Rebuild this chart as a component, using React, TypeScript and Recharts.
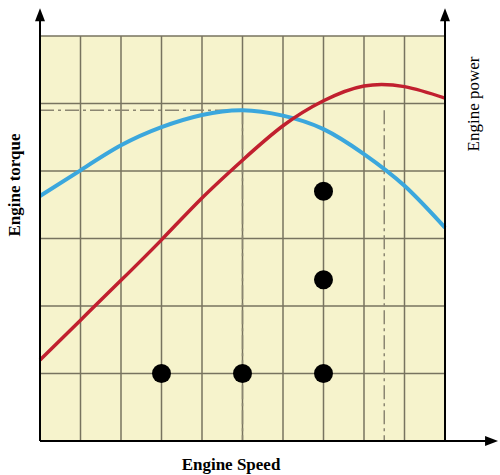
import React from 'react';
import {
  ComposedChart,
  Line,
  Scatter,
  XAxis,
  YAxis,
  CartesianGrid,
  ReferenceLine,
  ReferenceDot,
} from 'recharts';

// engine speed, in grid units
const speeds = [0, 1, 2, 3, 4, 5, 6, 7, 8, 9, 10];
const torque = [3.63, 4.01, 4.38, 4.65, 4.83, 4.9, 4.82, 4.62, 4.25, 3.78, 3.16];
const power = [1.2, 1.79, 2.38, 2.98, 3.6, 4.16, 4.67, 5.04, 5.26, 5.25, 5.08];

const pointX = [3, 5, 7, 7, 7];
const pointY = [1, 1, 1, 2.39, 3.7];

const xTicks = [0, 1, 2, 3, 4, 5, 6, 7, 8, 9, 10];
const yTicks = [0, 1, 2, 3, 4, 5, 6];
const powerTicks = [0.73, 1.38, 2.04, 2.7, 3.36, 4.0, 4.64, 5.33];

const data = speeds.map((x, i) => ({ x, torque: torque[i], power: power[i] }));
const dots = pointX.map((x, i) => ({ x, y: pointY[i] }));

const GRID = '#77735f';
const DASH = '#8b8672';

const upArrow = (p: any) => (
  <path d={`M${p.cx},${p.cy} L${p.cx - 5},${p.cy + 13} L${p.cx + 5},${p.cy + 13} Z`} fill="#000" />
);
const rightArrow = (p: any) => (
  <path d={`M${p.cx},${p.cy} L${p.cx - 13},${p.cy - 5} L${p.cx - 13},${p.cy + 5} Z`} fill="#000" />
);

const labelBase: React.CSSProperties = {
  position: 'absolute',
  fontFamily: '"Liberation Serif", serif',
  fontSize: 17,
  color: '#000',
  whiteSpace: 'nowrap',
};

export default function App() {
  return (
    <div style={{ position: 'absolute', left: 0, top: 0, width: 500, height: 475, background: '#fff' }}>
      <ComposedChart width={500} height={475} data={data} margin={{ top: 36, right: 55, bottom: 34, left: 40 }}>
        <CartesianGrid fill="#f6f3cc" stroke={GRID} strokeWidth={1.5} strokeOpacity={1} />
        <XAxis type="number" dataKey="x" domain={[0, 10]} ticks={xTicks} hide height={0} />
        <YAxis type="number" domain={[0, 6]} ticks={yTicks} hide width={0} />
        <YAxis
          yAxisId="right"
          orientation="right"
          type="number"
          domain={[0, 6]}
          ticks={powerTicks}
          width={0}
          mirror
          axisLine={false}
          tick={false}
          tickSize={6}
          tickLine={{ stroke: GRID, strokeWidth: 1.2 }}
        />

        <ReferenceLine segment={[{ x: 0, y: 4.9 }, { x: 5, y: 4.9 }]} stroke={DASH} strokeWidth={1.5} strokeDasharray="14 4 3 4" />
        <ReferenceLine segment={[{ x: 5, y: 4.9 }, { x: 5, y: 0 }]} stroke={DASH} strokeWidth={1.5} strokeDasharray="14 4 3 4" />
        <ReferenceLine segment={[{ x: 8.5, y: 4.9 }, { x: 8.5, y: 0 }]} stroke={DASH} strokeWidth={1.5} strokeDasharray="14 4 3 4" />

        <Line type="natural" dataKey="torque" stroke="#3ba7dd" strokeWidth={4} dot={false} activeDot={false} isAnimationActive={false} />
        <Line type="natural" dataKey="power" stroke="#c1202f" strokeWidth={3.5} dot={false} activeDot={false} isAnimationActive={false} />
        <Scatter
          data={dots}
          dataKey="y"
          isAnimationActive={false}
          shape={(p: any) => <circle cx={p.cx} cy={p.cy} r={9.5} fill="#000" />}
        />

        {/* axes with arrows */}
        <ReferenceLine segment={[{ x: 0, y: 0 }, { x: 0, y: 6.3 }]} stroke="#000" strokeWidth={2} ifOverflow="visible" />
        <ReferenceLine segment={[{ x: 10, y: 0 }, { x: 10, y: 6.3 }]} stroke="#000" strokeWidth={2} ifOverflow="visible" />
        <ReferenceLine segment={[{ x: 0, y: 0 }, { x: 11.1, y: 0 }]} stroke="#000" strokeWidth={2} ifOverflow="visible" />
        <ReferenceDot x={0} y={6.41} ifOverflow="visible" shape={upArrow} />
        <ReferenceDot x={10} y={6.41} ifOverflow="visible" shape={upArrow} />
        <ReferenceDot x={11.31} y={0} ifOverflow="visible" shape={rightArrow} />
      </ComposedChart>

      <div style={{ ...labelBase, left: 15, top: 185, fontWeight: 'bold', transform: 'translate(-50%, -50%) rotate(-90deg)' }}>
        Engine torque
      </div>
      <div style={{ ...labelBase, left: 474, top: 104, transform: 'translate(-50%, -50%) rotate(-90deg)' }}>
        Engine power
      </div>
      <div style={{ ...labelBase, left: 231, top: 465, fontWeight: 'bold', transform: 'translate(-50%, -50%)' }}>
        Engine Speed
      </div>
    </div>
  );
}
